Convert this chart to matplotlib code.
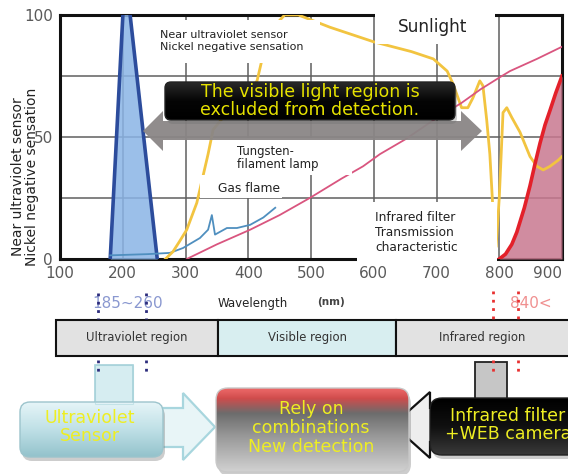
import numpy as np
import matplotlib
matplotlib.use("Agg")
import matplotlib.pyplot as plt
from matplotlib.patches import Rectangle, FancyBboxPatch, Polygon
from matplotlib.colors import LinearSegmentedColormap

plt.rcParams['font.family'] = ['DejaVu Sans']

# ---- spectral data (wavelength in nm, relative response in %) ----
uv_wl = [180, 201, 210, 255]
uv_resp = [0, 104, 104, 0]

gas_wl = [180, 240, 275, 296, 323, 336, 342, 347, 366, 382, 403, 424, 443]
gas_val = [1.5, 2, 2.5, 4.5, 8.6, 12, 18, 10, 12.7, 12.7, 14, 17, 21]

sun_wl = [268, 280, 290, 302, 318, 336, 344, 360, 385, 405, 414, 424, 440, 458,
          480, 530, 600, 660, 695, 717, 726, 740, 750, 758, 769, 774, 780, 785,
          790, 795, 800, 806, 812, 820, 833, 849, 860, 870, 881, 894, 900]
sun_val = [0, 3, 7, 12, 23, 43, 53, 58, 65, 70, 73, 84, 95, 100,
           100, 95, 89, 85, 82, 77, 72, 62, 62, 66, 73, 71, 57, 43,
           20, 5, 25, 60, 62, 58, 52, 42, 38, 36.5, 38, 40.5, 42]

tung_wl = [302, 350, 403, 450, 498, 549, 583, 610, 650, 690, 740, 770, 801, 817, 860, 900]
tung_val = [0, 6, 12, 18, 25, 33, 38, 43, 49, 56, 64, 69.5, 74.5, 77, 82, 87]

ir_wl = [800, 810, 820, 828, 840, 849, 857, 865, 873, 881, 890, 900]
ir_val = [0, 2, 6, 11, 21, 30, 39, 47.5, 55, 61, 68, 75]

x_ticks = [100, 200, 300, 400, 500, 600, 700, 800, 900]
y_ticks = [0, 25, 50, 75, 100]
y_ticklabels = ['0', '', '50', '', '100']

uv_band = [185, 260]      # ultraviolet sensor range
ir_band = [800, 840]      # infrared filter cut-on

W, H = 568, 474
fig = plt.figure(figsize=(W / 100, H / 100), dpi=100)

# ---- spectrum panel ----
ax = fig.add_axes([60 / W, (H - 259) / H, 502 / W, 244 / H])
ax.set_xlim(100, 900)
ax.set_ylim(0, 100)
ax.set_xticks(x_ticks)
ax.set_xticklabels([str(t) for t in x_ticks])
ax.get_xticklabels()[-1].set_horizontalalignment('right')
ax.set_yticks(y_ticks)
ax.set_yticklabels(y_ticklabels)
ax.tick_params(length=0, labelsize=11, labelcolor='#5a5a5a', pad=5)
ax.grid(True, color='#5f5f5f', lw=1.1)
ax.set_axisbelow(True)
for s in ax.spines.values():
    s.set_linewidth(2.2)
    s.set_color('#111111')

ax.fill_between(uv_wl, uv_resp, 0, color='#8ab4e6', alpha=0.85, lw=0, zorder=3)
ax.plot(uv_wl, uv_resp, color='#2c4c9c', lw=2.6, zorder=4)
ax.plot(gas_wl, gas_val, color='#4f8fbf', lw=1.3, zorder=4)
ax.plot(sun_wl, sun_val, color='#f2c440', lw=2.0, zorder=4)
ax.plot(tung_wl, tung_val, color='#d9557f', lw=1.3, zorder=4)
ax.fill_between(ir_wl, ir_val, 0, color='#c8788f', alpha=0.85, lw=0, zorder=3)
ax.plot(ir_wl, ir_val, color='#e3202a', lw=2.6, zorder=5)

fig.text(25 / W, 1 - 177 / H, 'Near ultraviolet sensor\nNickel negative sensation',
         rotation=90, ha='center', va='center', fontsize=10, color='#222222',
         linespacing=1.0)

# ---- overlay in pixel coordinates ----
ov = fig.add_axes([0, 0, 1, 1], zorder=5)
ov.patch.set_alpha(0)
ov.axis('off')


def gradient_box(x0, y0, x1, y1, colors, radius, edge='none', lw=1.0, z=3, shadow=False):
    if shadow:
        ov.add_patch(FancyBboxPatch((x0 + 2, y0 + 4), x1 - x0, y1 - y0,
                                    boxstyle=f"round,pad=0,rounding_size={radius}",
                                    fc='#707070', ec='none', alpha=0.35, zorder=z - 0.2))
    frame = FancyBboxPatch((x0, y0), x1 - x0, y1 - y0,
                           boxstyle=f"round,pad=0,rounding_size={radius}",
                           fc='none', ec=edge, lw=lw, zorder=z + 0.1)
    ov.add_patch(frame)
    cmap = LinearSegmentedColormap.from_list('g', colors)
    grad = np.linspace(0, 1, 256).reshape(-1, 1)
    im = ov.imshow(grad, cmap=cmap, extent=[x0, x1, y1, y0], origin='upper',
                   aspect='auto', zorder=z, interpolation='bilinear')
    im.set_clip_path(frame)


def white_box(x0, y0, x1, y1):
    ov.add_patch(Rectangle((x0, y0), x1 - x0, y1 - y0, fc='white', ec='none', zorder=2))


# label boxes inside the plot
white_box(140, 20, 320, 63)
ov.text(160, 41, 'Near ultraviolet sensor\nNickel negative sensation', fontsize=8,
        color='#222222', va='center', ha='left', zorder=3, linespacing=1.15)
white_box(375, 9, 495, 44)
ov.text(433, 27, 'Sunlight', fontsize=12.2, color='#222222', ha='center', va='center', zorder=3)

# double-headed grey arrow across the visible band
arrow_pts = [(143, 131), (163, 111), (163, 121), (461, 121), (461, 111), (482, 131),
             (461, 151), (461, 140), (163, 140), (163, 151)]
ov.add_patch(Polygon(arrow_pts, closed=True, fc='#8a8686', ec='none', alpha=0.95, zorder=2.5))

gradient_box(165, 82, 455, 120, ['#2a2a2a', '#050505', '#000000'], 6, edge='#222222', z=3, shadow=True)
ov.text(310, 101, 'The visible light region is\nexcluded from detection.', fontsize=12.5,
        color='#e6e200', ha='center', va='center', zorder=4, linespacing=1.0)

white_box(218, 138, 352, 175)
ov.text(237, 158, 'Tungsten-\nfilament lamp', fontsize=8.4, color='#222222',
        ha='left', va='center', zorder=3, linespacing=1.0)
white_box(200, 175, 282, 198)
ov.text(218, 188, 'Gas flame', fontsize=8.8, color='#222222', ha='left', va='center', zorder=3)
white_box(357, 202, 497, 262)
ov.text(375, 232, 'Infrared filter\nTransmission\ncharacteristic', fontsize=8.7,
        color='#222222', ha='left', va='center', zorder=3, linespacing=1.2)

# axis captions under the spectrum
ov.text(128, 304, '185~260', fontsize=11, color='#8a98d0', ha='center', va='center', zorder=3)
ov.text(253, 304, 'Wavelength', fontsize=8.5, color='#222222', ha='center', va='center', zorder=3)
ov.text(331, 302, '(nm)', fontsize=7.5, color='#444444', fontweight='bold',
        ha='center', va='center', zorder=3)
ov.text(531, 304, '840<', fontsize=11, color='#f09090', ha='center', va='center', zorder=3)

# region bar
regions = ['Ultraviolet region', 'Visible region', 'Infrared region']
region_edges = [56, 218, 396, 600]
region_fc = ['#e2e2e2', '#d8eef0', '#e2e2e2']
for i, name in enumerate(regions):
    x0, x1 = region_edges[i], region_edges[i + 1]
    ov.add_patch(Rectangle((x0, 320), x1 - x0, 36, fc=region_fc[i], ec='#111111', lw=1.5, zorder=3))
    cx = (x0 + min(x1, 568)) / 2 if i < 2 else 482
    ov.text(cx, 338, name, fontsize=8.4, color='#333333', ha='center', va='center', zorder=4)

# ---- bottom diagram ----
# ultraviolet sensor block
ov.add_patch(Rectangle((95, 365), 38, 39, fc='#d6edf1', ec='#a6d2da', lw=1.2, zorder=3))
ov.add_patch(Polygon([(150, 408), (183, 408), (183, 393), (215, 427), (183, 460),
                      (183, 447), (150, 447)], closed=True, fc='#e8f5f7', ec='#a8d6de',
                     lw=1.6, zorder=3))
gradient_box(20, 402, 163, 457, ['#e6f5f8', '#bfe0e6', '#93c2cb'], 10, edge='#9cc4cc',
             z=4, shadow=True)
ov.add_patch(Rectangle((95, 365), 38, 39, fc='none', ec='#a6d2da', lw=0.8, alpha=0.5, zorder=4.5))
ov.text(90, 427, 'Ultraviolet\nSensor', fontsize=12.5, color='#eeee22', ha='center',
        va='center', zorder=5, linespacing=1.05)

# central combined-detection block
gradient_box(216, 388, 409, 472,
             [(0.0, '#ee6a6a'), (0.12, '#d04c4c'), (0.3, '#6c6c6c'), (0.55, '#959595'),
              (1.0, '#d2d2d2')], 12, edge='#c8c8c8', z=4, shadow=True)
ov.text(311, 428, 'Rely on\ncombinations\nNew detection', fontsize=12.5, color='#eeee22',
        ha='center', va='center', zorder=5, linespacing=1.05)

# infrared filter + camera block
ov.add_patch(Rectangle((475, 362), 32, 42, fc='#c6c6c6', ec='#222222', lw=1.3, zorder=3))
ov.add_patch(Polygon([(393, 425), (430, 392), (430, 408), (520, 408), (520, 442),
                      (430, 442), (430, 458)], closed=True, fc='#eeeeee', ec='#111111',
                     lw=1.6, zorder=3))
gradient_box(430, 398, 600, 455, ['#000000', '#101010', '#3a3a3a'], 12, edge='#222222',
             z=4, shadow=True)
ov.text(508, 425, 'Infrared filter\n+WEB camera', fontsize=12.5, color='#eeee22',
        ha='center', va='center', zorder=5, linespacing=1.05)

ov.set_xlim(0, W)
ov.set_ylim(H, 0)

# ---- wavelength markers linking the spectrum to the diagram ----
band = fig.add_axes([0, 0, 1, 1], zorder=6)
band.patch.set_alpha(0)
band.axis('off')
band.set_xlim(32.5, 917.3)
band.set_ylim(H, 0)
for wl in uv_band:
    band.plot([wl, wl], [293, 319], color='#2c2c7c', lw=2, ls=(0, (1, 2)))
    band.plot([wl, wl], [360, 376], color='#2c2c7c', lw=2, ls=(0, (1, 2)))
for wl in ir_band:
    band.plot([wl, wl], [291, 319], color='#e83030', lw=2, ls=(0, (1, 2)))
    band.plot([wl, wl], [360, 372], color='#e83030', lw=2, ls=(0, (1, 2)))

fig.savefig('out.png', dpi=100, facecolor='white')
